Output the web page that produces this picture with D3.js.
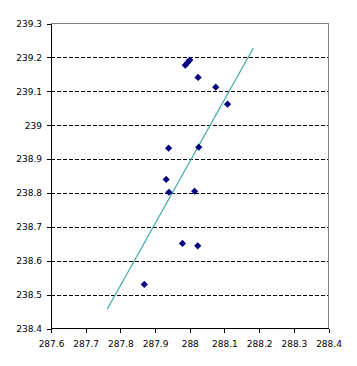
<!DOCTYPE html>
<html><head><meta charset="utf-8">
<script src="https://cdn.jsdelivr.net/npm/d3@7"></script>
<style>body{margin:0;background:#fff;}svg{display:block;}</style>
</head><body><svg id="c" width="357" height="366"></svg>
<script>
const xVals = [287.987, 287.994, 288.0, 288.024, 288.075, 288.109, 288.026, 287.939, 287.932, 287.94, 287.869, 288.014, 287.979, 288.023];
const yVals = [239.177, 239.185, 239.192, 239.141, 239.112, 239.062, 238.935, 238.932, 238.84, 238.802, 238.53, 238.805, 238.651, 238.644];
const trendX = [287.762, 288.183];
const trendY = [238.457, 239.227];
const xTicks = [287.6, 287.7, 287.8, 287.9, 288, 288.1, 288.2, 288.3, 288.4];
const yTicks = [238.4, 238.5, 238.6, 238.7, 238.8, 238.9, 239, 239.1, 239.2, 239.3];

const L = 51, R = 328.5, T = 23.5, B = 328.5;
const svg = d3.select("#c");
const x = d3.scaleLinear().domain([287.6, 288.4]).range([L, R]);
const y = d3.scaleLinear().domain([238.4, 239.3]).range([B, T]);
const font = "DejaVu Sans";

// gridlines
svg.append("g").selectAll("line").data(yTicks.slice(1, -1)).join("line")
  .attr("x1", L).attr("x2", R)
  .attr("y1", d => Math.round(y(d)) + 0.5).attr("y2", d => Math.round(y(d)) + 0.5)
  .attr("stroke", "#000").attr("stroke-dasharray", "4,2").attr("shape-rendering", "crispEdges");

// top/right border
svg.append("path").attr("d", `M${L},${T}H${R}V${B}`).attr("fill", "none")
  .attr("stroke", "#808080").attr("shape-rendering", "crispEdges");

// axes
const yAxis = d3.axisLeft(y).tickValues(yTicks).tickSize(4).tickPadding(5).tickFormat(d3.format(""));
const gy = svg.append("g").attr("transform", `translate(${L},0)`).call(yAxis);
const xAxis = d3.axisBottom(x).tickValues(xTicks).tickSize(4).tickPadding(8).tickFormat(d3.format(""));
const gx = svg.append("g").attr("transform", `translate(0,${B})`).call(xAxis);
[gx, gy].forEach(g => {
  g.selectAll("path,line").attr("stroke", "#000").attr("shape-rendering", "crispEdges");
  g.select(".domain").attr("d", g === gx ? `M${L},0H${R}` : `M0,${T}V${B}`);
  g.selectAll("text").attr("font-family", font).attr("font-size", 9).attr("fill", "#000");
});

// trendline
svg.append("line")
  .attr("x1", x(trendX[0])).attr("y1", y(trendY[0]))
  .attr("x2", x(trendX[1])).attr("y2", y(trendY[1]))
  .attr("stroke", "#3fa7a7").attr("stroke-width", 1.2);

// markers
const pts = xVals.map((v, i) => [v, yVals[i]]);
svg.append("g").selectAll("path").data(pts).join("path")
  .attr("transform", d => `translate(${x(d[0])},${y(d[1])})`)
  .attr("d", "M0,-3.6L3.6,0L0,3.6L-3.6,0Z")
  .attr("fill", "#000080");
</script></body></html>
